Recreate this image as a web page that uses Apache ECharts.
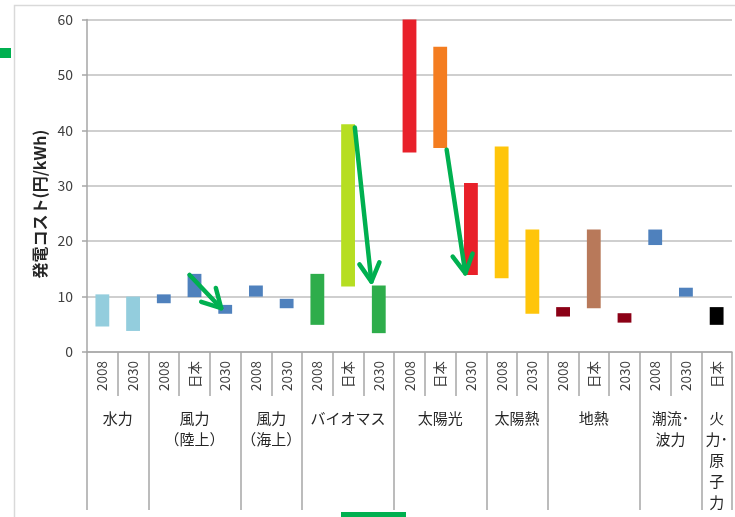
<!DOCTYPE html>
<html><head><meta charset="utf-8">
<script src="https://cdn.jsdelivr.net/npm/echarts@6/dist/echarts.min.js"></script>
<style>html,body{margin:0;padding:0;background:#fff}#c{width:735px;height:517px}</style>
</head><body><div id="c"></div>
<script>
// ---- data ----
const subLabels = ['2008','2030','2008','日本','2030','2008','2030','2008','日本','2030','2008','日本','2030','2008','2030','2008','日本','2030','2008','2030','日本'];
const groupNames = ['水力','風力\n（陸上）','風力\n（海上）','バイオマス','太陽光','太陽熱','地熱','潮流･\n波力','火\n力･\n原\n子\n力'];
const groupSizes = [2,3,2,3,3,2,3,2,1];
const lowValues  = [4.6,3.8,8.8,9.9,6.9,10.0,7.9,4.9,11.8,3.4,36.0,36.8,13.9,13.3,6.9,6.4,7.9,5.3,19.3,10.0,4.9];
const highValues = [10.4,10.0,10.4,14.1,8.5,12.0,9.6,14.1,41.1,12.0,60.0,55.1,30.5,37.1,22.1,8.1,22.1,7.0,22.1,11.6,8.1];
const yTickValues = [0,10,20,30,40,50,60];
// arrows in data units: [startCategoryPos, startValue, endCategoryPos, endValue]
const arrows = [[3.34,13.9,4.37,7.9],[8.72,40.5,9.26,12.7],[11.71,36.5,12.32,14.2]];

// ---- styles ----
const barColors = ['#93CDDD','#93CDDD','#4F81BD','#4F81BD','#4F81BD','#4F81BD','#4F81BD',
  '#2EAD4B','#B6DE22','#2EAD4B','#E8202A','#F47D20','#E8202A','#FFC50A','#FFC50A',
  '#8B0016','#B8795A','#8B0016','#4F81BD','#4F81BD','#000000'];
const FONT = 'Noto Sans CJK JP';
const GRAY = '#a6a6a6';

// group axis (half-category units)
const halfCount = subLabels.length * 2;
const groupAxisData = [];
for (let i = 0; i <= halfCount; i++) groupAxisData.push(String(i));
const boundaries = new Set([0]);
const centerLabel = {};
let acc = 0;
groupSizes.forEach((s, gi) => {
  centerLabel[acc * 2 + s] = groupNames[gi];
  acc += s;
  boundaries.add(acc * 2);
});

const rangeData = highValues.map((h, i) => ({
  value: +(h - lowValues[i]).toFixed(2),
  itemStyle: { color: barColors[i] }
}));

const chart = echarts.init(document.getElementById('c'));
chart.setOption({
  backgroundColor: '#fff',
  animation: false,
  grid: { left: 87, right: 0, top: 19.5, bottom: 165, containLabel: false },
  xAxis: [
    {
      type: 'category', data: subLabels, position: 'bottom',
      axisLine: { show: true, onZero: false, lineStyle: { color: GRAY, width: 1.5 } },
      axisTick: { show: true, length: 44, interval: 0, lineStyle: { color: GRAY, width: 1.5 } },
      axisLabel: { rotate: 90, interval: 0, margin: 9, fontSize: 13.5, color: '#404040', fontFamily: FONT },
      splitLine: { show: false }
    },
    {
      type: 'category', data: groupAxisData, position: 'bottom', boundaryGap: false,
      axisLine: { show: false, onZero: false },
      axisTick: { show: true, length: 158, interval: (idx) => boundaries.has(idx), lineStyle: { color: GRAY, width: 1.5 } },
      axisLabel: {
        interval: 0, margin: 56, fontSize: 15, lineHeight: 21, color: '#262626', fontFamily: FONT,
        formatter: (v, idx) => centerLabel[idx] || ''
      },
      splitLine: { show: false }
    },
    { type: 'value', min: 0, max: subLabels.length, show: false, position: 'bottom' }
  ],
  yAxis: {
    type: 'value', min: yTickValues[0], max: yTickValues[yTickValues.length - 1], interval: 10,
    axisLine: { show: true, lineStyle: { color: GRAY, width: 1.5 } },
    axisTick: { show: true, length: 5, lineStyle: { color: GRAY, width: 1.5 } },
    axisLabel: { margin: 14, fontSize: 14, color: '#404040', fontFamily: FONT },
    splitLine: { show: true, lineStyle: { color: '#bfbfbf', width: 1.5 } }
  },
  series: [
    {
      type: 'bar', stack: 'r', xAxisIndex: 0, data: lowValues, barWidth: '45%',
      itemStyle: { color: 'transparent' }, silent: true, emphasis: { disabled: true }
    },
    {
      type: 'bar', stack: 'r', xAxisIndex: 0, data: rangeData, barWidth: '45%',
      emphasis: { disabled: true }
    },
    {
      type: 'custom', xAxisIndex: 2, yAxisIndex: 0, data: arrows,
      encode: { x: [0, 2], y: [1, 3] }, silent: true, z: 10,
      renderItem: (params, api) => {
        const a = api.coord([api.value(0), api.value(1)]);
        const b = api.coord([api.value(2), api.value(3)]);
        const ang = Math.atan2(b[1] - a[1], b[0] - a[0]);
        const L = 21, sp = 0.5;
        const w1 = [b[0] - L * Math.cos(ang - sp), b[1] - L * Math.sin(ang - sp)];
        const w2 = [b[0] - L * Math.cos(ang + sp), b[1] - L * Math.sin(ang + sp)];
        const st = { stroke: '#00B050', lineWidth: 4.5, fill: null, lineCap: 'round', lineJoin: 'round' };
        return { type: 'group', children: [
          { type: 'line', shape: { x1: a[0], y1: a[1], x2: b[0], y2: b[1] }, style: st },
          { type: 'polyline', shape: { points: [w1, b, w2] }, style: st }
        ]};
      }
    }
  ],
  graphic: [
    { type: 'rect', left: 12, top: 3, shape: { width: 760, height: 560 }, style: { fill: null, stroke: '#d9d9d9', lineWidth: 1.5 }, z: -1, silent: true },
    { type: 'rect', left: 0, top: 48, shape: { width: 11, height: 10 }, style: { fill: '#00B050' }, silent: true },
    { type: 'rect', left: 341, top: 512, shape: { width: 65, height: 6 }, style: { fill: '#00B050' }, silent: true },
    { type: 'text', x: 40, y: 204, rotation: Math.PI / 2, silent: true,
      style: { text: '発電コスト(円/kWh)', fontSize: 16, fontWeight: 'bold', fill: '#262626', fontFamily: FONT, align: 'center', verticalAlign: 'middle' } }
  ]
});
</script>
</body></html>
